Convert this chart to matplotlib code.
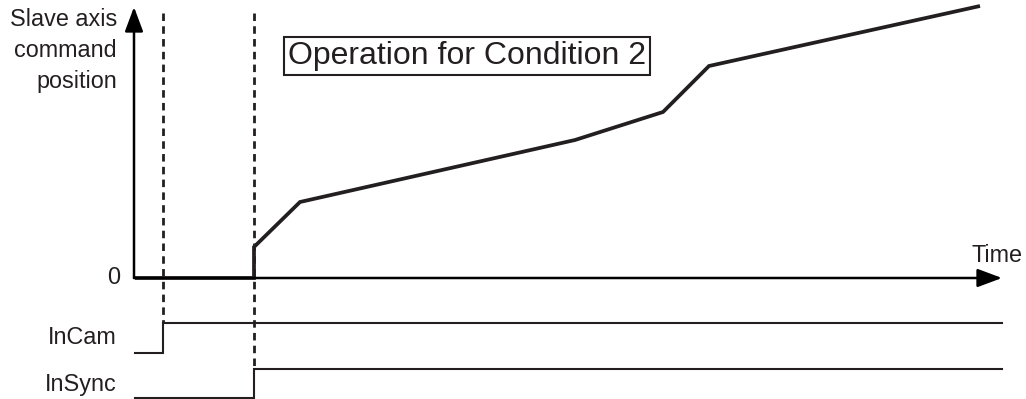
import matplotlib.pyplot as plt

plt.rcParams['font.family'] = ['Liberation Sans', 'DejaVu Sans']

INK = '#231f20'

# time axis (ms, 0 at the origin of the position graph)
t_end = 867
t_incam = 28
t_insync = 119

# slave axis command position, piecewise linear
curve_t = [0, 119, 119, 165, 440, 528, 574, 845]
curve_pos = [0, 0, 31, 76, 138, 166, 212, 272]

# signal rows: baseline and high level (same units as position)
incam_low, incam_high = -75, -45
insync_low, insync_high = -120, -91

fig = plt.figure(figsize=(10.26, 3.99), dpi=100)
ax = fig.add_axes([0, 0, 1, 1])
ax.set_xlim(-135, 891)
ax.set_ylim(-121, 278)
ax.axis('off')

# axes arrows
arrow = dict(arrowstyle='-|>,head_length=0.75,head_width=0.28', color='black',
             lw=1.8, mutation_scale=20, shrinkA=0, shrinkB=0)
ax.annotate('', xy=(-1, 271), xytext=(-1, 0), arrowprops=arrow)
ax.annotate('', xy=(t_end, 0), xytext=(-1, 0), arrowprops=arrow)

# dashed markers
dash = (0, (2.7, 1.9))
ax.plot([t_incam, t_incam], [265, incam_high], color=INK, lw=2.0, ls=dash)
ax.plot([t_insync, t_insync], [265, insync_high], color=INK, lw=2.0, ls=dash)

# position curve
ax.plot(curve_t, curve_pos, color=INK, lw=2.7, solid_joinstyle='miter', solid_capstyle='butt')

# signals
ax.plot([0, t_incam, t_incam, t_end], [incam_low, incam_low, incam_high, incam_high],
        color=INK, lw=1.5, solid_joinstyle='miter')
ax.plot([0, t_insync, t_insync, t_end], [insync_low, insync_low, insync_high, insync_high],
        color=INK, lw=1.5, solid_joinstyle='miter')

# labels
fs = 16.8
ax.text(-18, 227.5, 'Slave axis\ncommand\nposition', ha='right', va='center',
        fontsize=fs, linespacing=1.42, color=INK)
ax.text(-15, 0, '0', ha='right', va='center', fontsize=fs, color=INK)
ax.text(-18, -60, 'InCam', ha='right', va='center', fontsize=fs, color=INK)
ax.text(-18, -106, 'InSync', ha='right', va='center', fontsize=fs, color=INK)
ax.text(887, 22, 'Time', ha='right', va='center', fontsize=fs, color=INK)
ax.text(332, 222, 'Operation for Condition 2', ha='center', va='center', fontsize=23,
        color=INK, bbox=dict(boxstyle='square,pad=0.12', fc='white', ec=INK, lw=1.5))

fig.savefig('out.png', dpi=100)
plt.close()
